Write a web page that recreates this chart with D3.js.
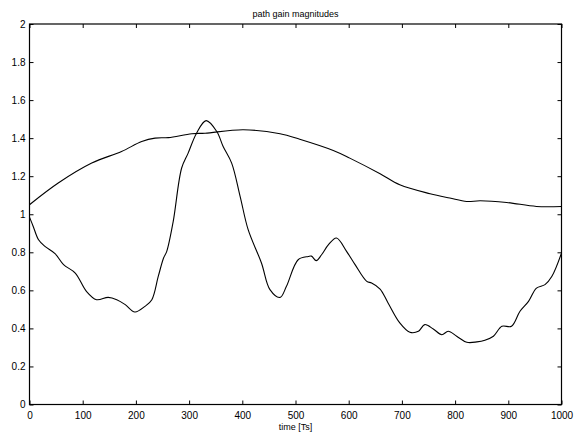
<!DOCTYPE html>
<html>
<head>
<meta charset="utf-8">
<script src="https://cdn.jsdelivr.net/npm/d3@7"></script>
<style>
  html, body { margin: 0; padding: 0; background: #fff; }
  svg { display: block; }
  text { font-family: "Liberation Sans", Arial, Helvetica, sans-serif; }
</style>
</head>
<body>
<svg id="chart" width="574" height="433"></svg>
<script>
// ---- data ----
const title = "path gain magnitudes";
const xLabel = "time [Ts]";
const xTicks = [0, 100, 200, 300, 400, 500, 600, 700, 800, 900, 1000];
const yTicks = [0, 0.2, 0.4, 0.6, 0.8, 1, 1.2, 1.4, 1.6, 1.8, 2];

const path1T = [0, 54, 117, 173, 211, 236, 261, 305, 330, 402, 471, 508, 571, 602, 659, 696, 753, 790, 822, 847, 897, 953, 1000];
const path1G = [1.05, 1.164, 1.269, 1.33, 1.382, 1.40, 1.403, 1.423, 1.426, 1.444, 1.423, 1.394, 1.335, 1.295, 1.213, 1.155, 1.108, 1.085, 1.067, 1.071, 1.062, 1.041, 1.041];

const path2T = [0, 7, 17, 29, 48, 64, 86, 107, 126, 148, 164, 180, 198, 217, 230, 242, 252, 258, 270, 286, 298, 314, 332, 352, 364, 380, 396, 411, 436, 452, 471, 483, 505, 524, 530, 539, 549, 562, 577, 596, 612, 634, 643, 659, 674, 696, 715, 731, 743, 759, 775, 787, 803, 822, 841, 856, 872, 888, 906, 922, 938, 953, 969, 982, 1000];
const path2G = [0.985, 0.936, 0.866, 0.831, 0.793, 0.735, 0.691, 0.595, 0.551, 0.563, 0.551, 0.525, 0.486, 0.516, 0.551, 0.673, 0.77, 0.805, 0.96, 1.243, 1.32, 1.426, 1.492, 1.435, 1.356, 1.269, 1.093, 0.919, 0.744, 0.604, 0.563, 0.621, 0.761, 0.778, 0.78, 0.756, 0.787, 0.84, 0.875, 0.805, 0.735, 0.647, 0.639, 0.607, 0.534, 0.429, 0.38, 0.385, 0.42, 0.397, 0.367, 0.385, 0.359, 0.327, 0.329, 0.338, 0.359, 0.411, 0.411, 0.49, 0.542, 0.612, 0.63, 0.674, 0.796];

// ---- layout ----
const svg = d3.select("#chart");
const L = 29.5, R = 561.5, T = 24, B = 404.5;
const x = d3.scaleLinear().domain([0, 1000]).range([L, R]);
const y = d3.scaleLinear().domain([0, 2]).range([B, T]);

const fmt = d => d3.format("")(+d.toFixed(1));

// frame
svg.append("rect").attr("x", L).attr("y", T).attr("width", R - L).attr("height", B - T)
  .attr("fill", "none").attr("stroke", "#000").attr("stroke-width", 1.2);

// axes
const axB = svg.append("g").attr("transform", `translate(0,${B})`)
  .call(d3.axisBottom(x).tickValues(xTicks).tickSize(-4).tickPadding(7).tickFormat(d3.format("d")));
const axT = svg.append("g").attr("transform", `translate(0,${T})`)
  .call(d3.axisTop(x).tickValues(xTicks).tickSize(-4).tickFormat(""));
const axL = svg.append("g").attr("transform", `translate(${L},0)`)
  .call(d3.axisLeft(y).tickValues(yTicks).tickSize(-4).tickPadding(4).tickFormat(fmt));
const axR = svg.append("g").attr("transform", `translate(${R},0)`)
  .call(d3.axisRight(y).tickValues(yTicks).tickSize(-4).tickFormat(""));

[axB, axT, axL, axR].forEach(g => {
  g.select(".domain").remove();
  g.selectAll("line").attr("stroke", "#000").attr("stroke-width", 1);
  g.selectAll("text").attr("fill", "#000").style("font-size", "10px")
    .style("font-family", '"Liberation Sans", Arial, sans-serif');
});

// lines
const line = d3.line().x(d => x(d[0])).y(d => y(d[1])).curve(d3.curveCatmullRom.alpha(0.5));
svg.append("path").datum(path1T.map((t, i) => [t, path1G[i]]))
  .attr("d", line).attr("fill", "none").attr("stroke", "#000").attr("stroke-width", 1.1);
svg.append("path").datum(path2T.map((t, i) => [t, path2G[i]]))
  .attr("d", line).attr("fill", "none").attr("stroke", "#000").attr("stroke-width", 1.1);

// title and label
svg.append("text").attr("x", (L + R) / 2).attr("y", 17).attr("text-anchor", "middle")
  .style("font-size", "9px").text(title);
svg.append("text").attr("x", (L + R) / 2).attr("y", 430).attr("text-anchor", "middle")
  .style("font-size", "9px").text(xLabel);
</script>
</body>
</html>
